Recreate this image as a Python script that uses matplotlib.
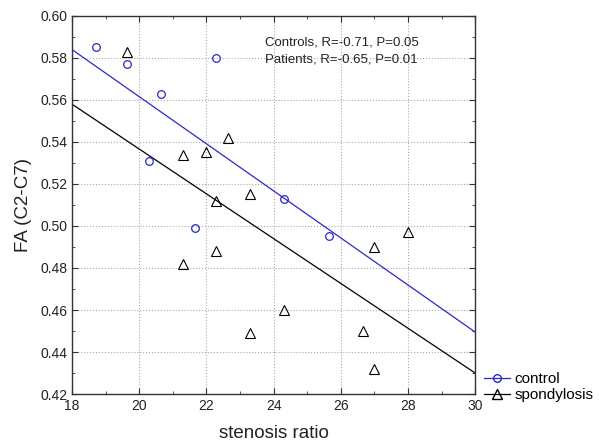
import matplotlib.pyplot as plt
from matplotlib.ticker import MultipleLocator

plt.rcParams['font.family'] = ['Liberation Sans', 'DejaVu Sans']

# control group (circles)
ctrl_x = [18.7, 19.65, 20.65, 20.3, 22.3, 21.65, 24.3, 25.65]
ctrl_y = [0.585, 0.577, 0.563, 0.531, 0.580, 0.499, 0.513, 0.495]

# spondylosis group (triangles)
spon_x = [19.65, 21.3, 22.0, 22.65, 22.3, 23.3, 21.3, 22.3, 23.3, 24.3, 28.0, 27.0, 26.65, 27.0]
spon_y = [0.583, 0.534, 0.535, 0.542, 0.512, 0.515, 0.482, 0.488, 0.449, 0.460, 0.497, 0.490, 0.450, 0.432]

# regression line end points
fit_x = [18, 30]
ctrl_fit = [0.584, 0.4495]
spon_fit = [0.558, 0.430]

blue = '#2828c8'

fig = plt.figure(figsize=(5.99, 4.44), dpi=100)
ax = fig.add_axes([0.1202, 0.1126, 0.673, 0.8514])

ax.plot(ctrl_x, ctrl_y, 'o', ms=5.5, mfc='none', mec=blue, mew=0.9, zorder=3)
ax.plot(spon_x, spon_y, '^', ms=6.5, mfc='none', mec='black', mew=0.8, zorder=3)
ax.plot(fit_x, ctrl_fit, '-', color=blue, lw=0.9)
ax.plot(fit_x, spon_fit, '-', color='black', lw=0.9)

# legend proxies
ax.plot([], [], '-o', color=blue, ms=5.5, mfc='none', mec=blue, lw=0.9, label='control')
ax.plot([], [], '-^', color='black', ms=6.5, mfc='none', lw=0.9, label='spondylosis')
ax.legend(loc='lower left', bbox_to_anchor=(1.0, -0.045), frameon=False,
          fontsize=11, handlelength=1.7, handletextpad=0.25, borderaxespad=0.2,
          labelspacing=0.1)

ax.set_xlim(18, 30)
ax.set_ylim(0.42, 0.60)
ax.xaxis.set_major_locator(MultipleLocator(2))
ax.xaxis.set_minor_locator(MultipleLocator(1))
ax.yaxis.set_major_locator(MultipleLocator(0.02))
ax.yaxis.set_minor_locator(MultipleLocator(0.01))
ax.yaxis.set_major_formatter(lambda v, p: f'{v:.2f}')
ax.tick_params(which='both', direction='in', top=True, right=True,
               labelsize=10, colors='#333333', labelcolor='#222222')
ax.tick_params(which='major', length=4)
ax.tick_params(which='minor', length=2.5)
ax.grid(True, which='major', linestyle=':', color='#aaaaaa', lw=0.8)
for s in ax.spines.values():
    s.set_color('#333333')
    s.set_linewidth(1.0)

ax.set_xlabel('stenosis ratio', fontsize=13.5, color='#222222', labelpad=9)
ax.set_ylabel('FA (C2-C7)', fontsize=13.5, color='#222222', labelpad=6)

ax.text(0.479, 0.93, 'Controls, R=-0.71, P=0.05', transform=ax.transAxes,
        fontsize=9.5, color='#222222', va='center')
ax.text(0.479, 0.885, 'Patients, R=-0.65, P=0.01', transform=ax.transAxes,
        fontsize=9.5, color='#222222', va='center')

fig.savefig('out.png', dpi=100)
